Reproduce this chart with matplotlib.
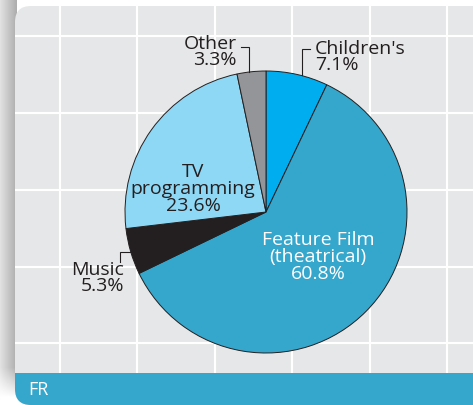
import numpy as np
import matplotlib.pyplot as plt
from matplotlib.patches import FancyBboxPatch, Rectangle

# revenue share by segment
categories = ["Children's", "Feature Film\n(theatrical)", "Music", "TV\nprogramming", "Other"]
shares = [7.1, 60.8, 5.3, 23.6, 3.3]
colors = ['#00aeef', '#35a6cc', '#231f20', '#8fd8f5', '#939598']
region = 'FR'

W, H = 473, 405
ink = '#231f20'
plt.rcParams['font.family'] = ['Open Sans', 'DejaVu Sans']

fig = plt.figure(figsize=(W / 100, H / 100), dpi=100)
ax = fig.add_axes([0, 0, 1, 1])

# soft shadow along the left side of the panel
yy, xx = np.mgrid[0:H, 0:16]
a = 0.12 + 0.20 * (xx / 15.0)
b = np.clip((H - yy - 8) / 30.0, 0, 1)
shade = 1 - a * b
ax.imshow(shade, cmap='gray', vmin=0, vmax=1, extent=[0, 16, 0, H],
          origin='upper', zorder=0, interpolation='bilinear')

# grey panel with rounded corners
panel = FancyBboxPatch((15, 0), 540, 399, boxstyle='round,pad=0,rounding_size=16',
                       facecolor='#e6e7e8', edgecolor='none', zorder=1)
ax.add_patch(panel)

for gx in [60, 137, 215, 292, 370, 447]:
    ln, = ax.plot([gx, gx], [0, H], color='white', lw=1.5, zorder=2)
    ln.set_clip_path(panel)
for gy in [369, 292, 215, 138, 62]:
    ln, = ax.plot([0, W], [gy, gy], color='white', lw=1.5, zorder=2)
    ln.set_clip_path(panel)

band = Rectangle((15, 0), 540, 32, facecolor='#35a6cc', edgecolor='none', zorder=3)
ax.add_patch(band)
band.set_clip_path(panel)
ax.text(28, 15, region, color='white', fontsize=13, ha='left', va='center', zorder=4)

# the pie itself
cx, cy, r = 266, 193, 141
ax.pie(shares, colors=colors, startangle=90, counterclock=False,
       center=(cx, cy), radius=r, frame=True,
       wedgeprops=dict(edgecolor=ink, linewidth=0.7, zorder=5))

def label(i, x, y, ha, color=ink):
    ax.text(x, y, f'{categories[i]}\n{shares[i]}%', color=color, fontsize=14,
            ha=ha, va='center', multialignment='center' if ha == 'center' else ha,
            linespacing=0.92, zorder=7)

label(0, 315, 348, 'left')
label(1, 318, 148, 'center', color='white')
label(2, 124, 127, 'right')
label(3, 193, 216, 'center')
label(4, 237, 353, 'right')

# leader brackets
for xs, ys in [([241, 249, 249], [358, 358, 333]),
               ([310, 302, 302], [356, 356, 330]),
               ([131, 120, 120], [153, 153, 143])]:
    ax.plot(xs, ys, color=ink, lw=0.8, zorder=6, solid_joinstyle='miter')

ax.set_xlim(0, W)
ax.set_ylim(0, H)
ax.set_aspect('auto')
ax.axis('off')

fig.savefig('out.png', dpi=100)
